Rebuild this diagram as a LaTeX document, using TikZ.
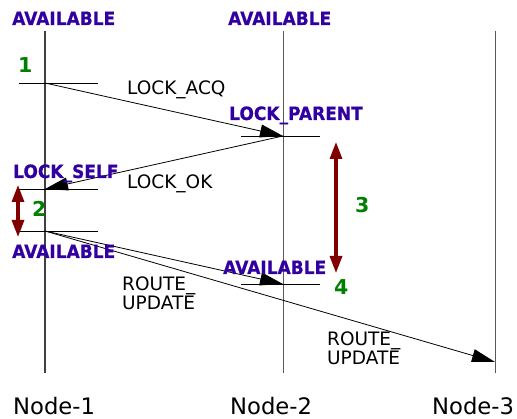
\documentclass[tikz,border=0pt]{standalone}
\usepackage{fontspec}
\setmainfont{DejaVu Sans}
\newfontfamily\statefont[FakeStretch=0.93,FakeBold=0.6]{DejaVu Sans}
\usetikzlibrary{arrows.meta}
\definecolor{stateblue}{RGB}{50,0,160}
\definecolor{stepgreen}{RGB}{0,128,0}
\definecolor{spanred}{RGB}{128,0,0}
\tikzset{
  statelbl/.style={inner sep=0pt, anchor=base west, text=stateblue, font=\statefont\fontsize{18.3}{19}\selectfont\bfseries},
  msglbl/.style={inner sep=0pt, anchor=base west, font=\fontsize{18.5}{19}\selectfont},
  numlbl/.style={inner sep=0pt, anchor=base west, text=stepgreen, font=\fontsize{20.5}{22}\selectfont\bfseries},
  nodelbl/.style={inner sep=0pt, anchor=base west, font=\fontsize{22.7}{24}\selectfont},
  lifeline/.style={draw=black!65, line width=1pt},
  tick/.style={draw=black, line width=0.8pt},
  msg/.style={draw=black, line width=0.8pt, -{Triangle[length=23pt,width=13pt]}},
  span/.style={draw=spanred, line width=3.2pt, {Triangle[length=17pt,width=12pt]}-{Triangle[length=17pt,width=12pt]}}
}
\begin{document}
\begin{tikzpicture}[x=1pt,y=-1pt]
\useasboundingbox (0,0) rectangle (517,419);

% lifelines
\coordinate (n1top) at (45,31);  \coordinate (n1bot) at (45,373);
\coordinate (n2top) at (283,31); \coordinate (n2bot) at (283,373);
\coordinate (n3top) at (495,31); \coordinate (n3bot) at (495,373);
\draw[lifeline, draw=black!75, line width=1.4pt] (n1top) -- (n1bot);
\draw[lifeline] (n2top) -- (n2bot);
\draw[lifeline] (n3top) -- (n3bot);

% events on the lifelines
\coordinate (acq)  at (45,83);
\coordinate (par)  at (283,136);
\coordinate (self) at (45,189);
\coordinate (free) at (45,231);
\coordinate (upd2) at (283,284);
\coordinate (upd3) at (495,362);

% event ticks
\draw[tick] ([xshift=-26]acq)  -- ([xshift=53]acq);
\draw[tick] ([xshift=-42]par)  -- ([xshift=37]par);
\draw[tick] ([xshift=-26]self) -- ([xshift=53]self);
\draw[tick] ([xshift=-26]free) -- ([xshift=53]free);
\draw[tick] ([xshift=-42]upd2) -- ([xshift=37]upd2);

% messages
\draw[msg] (acq) -- (par);
\draw[msg] (par) -- (self);
\draw[msg] (free) -- (upd2);
\draw[msg] (free) -- (upd3);

% durations
\coordinate (s1a) at (18,185);  \coordinate (s1b) at (18,237);
\coordinate (s2a) at (336,142); \coordinate (s2b) at (336,273);
\draw[span] (s1a) -- (s1b);
\draw[span] (s2a) -- (s2b);

% state labels
\node[statelbl] (st1) at (12,25)  {AVAILABLE};
\node[statelbl] (st2) at (228,25) {AVAILABLE};
\node[statelbl] (st3) at (229,120) {LOCK\_PARENT};
\node[statelbl] (st4) at (13,178) {LOCK\_SELF};
\node[statelbl] (st5) at (12,258) {AVAILABLE};
\node[statelbl] (st6) at (223,274) {AVAILABLE};

% message labels
\node[msglbl] (m1) at (127,95)  {LOCK\_ACQ};
\node[msglbl] (m2) at (127,189) {LOCK\_OK};
\node[msglbl, anchor=north west, align=left] (m3) at (122,277) {ROUTE\_\\UPDATE};
\node[msglbl, anchor=north west, align=left] (m4) at (327,332) {ROUTE\_\\UPDATE};

% step numbers
\node[numlbl] (k1) at (18,73)  {1};
\node[numlbl] (k2) at (32,217) {2};
\node[numlbl] (k3) at (355,213) {3};
\node[numlbl] (k4) at (334,295) {4};

% node names
\node[nodelbl] (l1) at (13,415)  {Node-1};
\node[nodelbl] (l2) at (230,415) {Node-2};
\node[nodelbl] (l3) at (432,415) {Node-3};
\end{tikzpicture}
\end{document}
